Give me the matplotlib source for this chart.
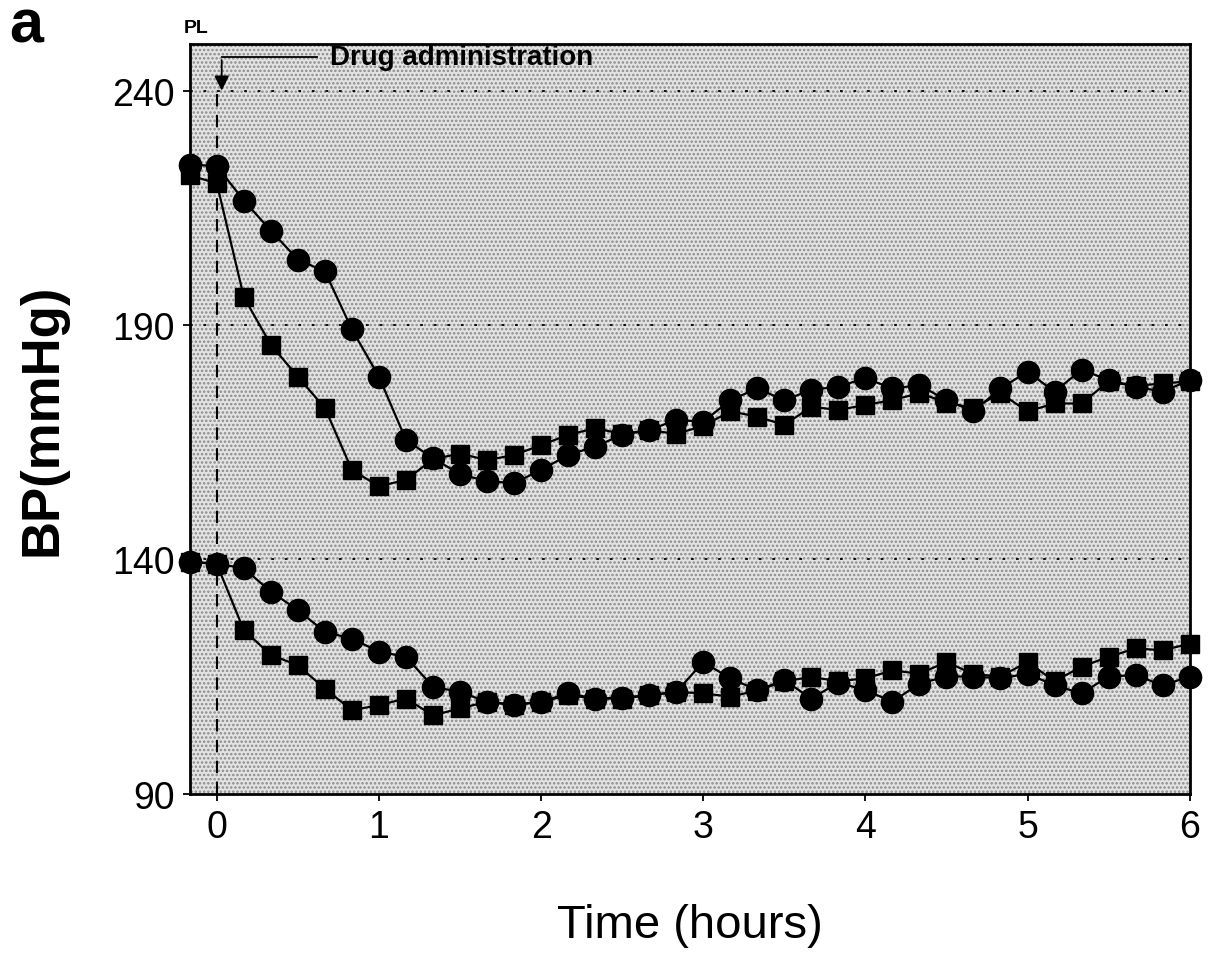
import matplotlib
matplotlib.use("Agg")
import matplotlib.pyplot as plt
from matplotlib.patches import Rectangle

plt.rcParams["font.family"] = ["Liberation Sans", "DejaVu Sans"]
plt.rcParams["hatch.linewidth"] = 1.2

# time points every 10 minutes, from 10 min before drug up to 6 hours
minutes = list(range(-10, 370, 10))
hours = [m / 60 for m in minutes]

# systolic BP
sys_circle = [224.3, 224.0, 216.6, 210.2, 204.0, 201.5, 189.1, 179.0, 165.5, 161.6,
              158.2, 156.7, 156.3, 159.1, 162.3, 164.1, 166.6, 167.6, 169.8, 169.4,
              174.0, 176.5, 174.0, 176.2, 176.9, 178.7, 176.5, 177.2, 174.0, 171.6,
              176.5, 180.1, 175.8, 180.5, 178.3, 176.9, 175.8, 178.3]
sys_square = [222.0, 220.3, 196.0, 185.8, 179.0, 172.3, 159.1, 155.6, 157.0, 161.4,
              162.6, 161.2, 162.3, 164.4, 166.6, 168.0, 166.8, 167.6, 166.8, 168.5,
              171.6, 170.5, 168.7, 172.6, 171.9, 173.0, 174.0, 175.5, 173.5, 172.3,
              175.5, 171.6, 173.3, 173.3, 178.0, 177.0, 177.6, 178.0]
# diastolic BP
dia_circle = [139.5, 139.1, 138.1, 133.1, 129.2, 124.5, 123.1, 120.3, 119.2, 112.8,
              111.7, 109.6, 108.9, 109.6, 111.4, 110.3, 110.5, 111.0, 111.7, 118.1,
              114.6, 112.1, 114.2, 110.3, 113.7, 112.1, 109.6, 113.5, 115.0, 115.0,
              114.6, 115.6, 113.1, 111.4, 115.0, 115.3, 113.1, 115.0]
dia_square = [139.5, 139.0, 124.9, 119.6, 117.4, 112.4, 107.8, 108.9, 110.3, 106.7,
              108.2, 109.6, 109.0, 109.6, 111.0, 110.3, 110.3, 111.0, 111.7, 111.4,
              110.7, 112.0, 114.0, 114.9, 114.0, 114.6, 116.3, 115.6, 118.1, 115.5,
              115.0, 118.1, 114.0, 117.1, 119.2, 121.0, 120.6, 122.0]

xticks = [0, 1, 2, 3, 4, 5, 6]
yticks = [90, 140, 190, 240]

fig = plt.figure(figsize=(12.09, 9.62), dpi=100)
ax = fig.add_axes([0.157, 0.174, 0.827, 0.779])

# halftone-like background
ax.set_facecolor("#e3e3e3")
ax.add_patch(Rectangle((0, 0), 1, 1, transform=ax.transAxes, facecolor="none",
                       edgecolor="#8a8a8a", hatch="....", linewidth=0, zorder=0))

for y in [140, 190, 240]:
    ax.axhline(y, color="black", linestyle=(0, (1.5, 6)), linewidth=1.3, zorder=1)
ax.plot([0, 0], [90, 240], color="black", linestyle=(0, (6, 4)), linewidth=1.5, zorder=1)

lw = 1.6
ax.plot(hours, sys_square, color="black", marker="s", markersize=12.5, linewidth=lw, zorder=3, clip_on=False)
ax.plot(hours, sys_circle, color="black", marker="o", markersize=16, linewidth=lw, zorder=4, clip_on=False)
ax.plot(hours, dia_square, color="black", marker="s", markersize=12.5, linewidth=lw, zorder=3, clip_on=False)
ax.plot(hours, dia_circle, color="black", marker="o", markersize=16, linewidth=lw, zorder=4, clip_on=False)

ax.set_xlim(-1 / 6, 6)
ax.set_ylim(90, 250)
ax.set_xticks(xticks)
ax.set_yticks(yticks)
ax.tick_params(axis="both", labelsize=27, length=5, width=1.3, direction="out", pad=6)
for s in ax.spines.values():
    s.set_linewidth(2)

ax.set_xlabel("Time (hours)", fontsize=34, labelpad=42)
ax.set_ylabel("BP(mmHg)", fontsize=38, fontweight="bold", labelpad=32)

# drug administration annotation
ax.annotate("", xy=(0.03, 239.5), xytext=(0.03, 247.2),
            arrowprops=dict(arrowstyle="-|>", color="black", lw=1.3, mutation_scale=22))
ax.plot([0.03, 0.62], [247.2, 247.2], color="black", linewidth=1.3, clip_on=False)
ax.text(0.7, 247.2, "Drug administration", fontsize=20, fontweight="bold", va="center", ha="left")

fig.text(0.152, 0.970, "PL", fontsize=14, fontweight="bold", ha="left", va="center")
fig.text(0.008, 0.972, "a", fontsize=44, fontweight="bold", ha="left", va="center")

fig.savefig("out.png", dpi=100)
